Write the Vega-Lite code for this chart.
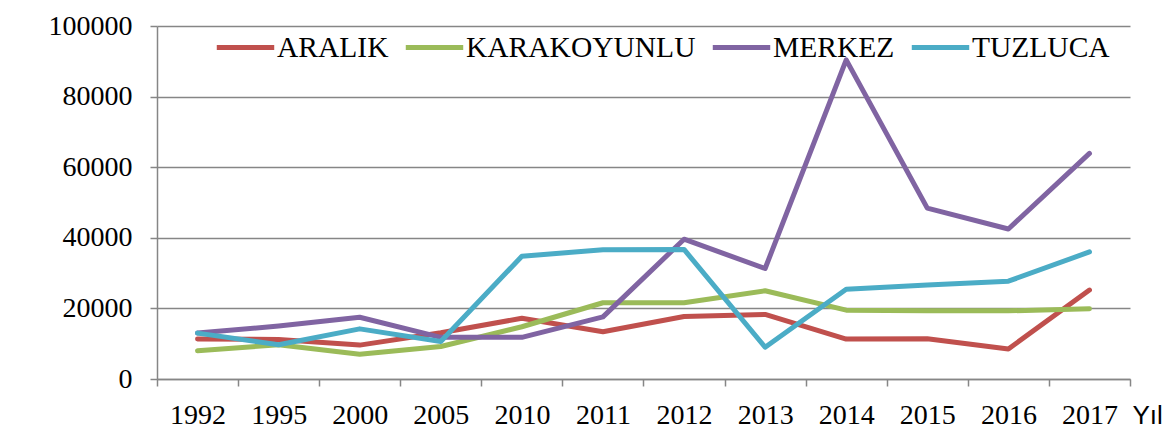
{
  "$schema": "https://vega.github.io/schema/vega-lite/v6.json",
  "autosize": {"type": "none"},
  "padding": {"left": 157, "top": 26, "right": 43, "bottom": 67},
  "width": 973,
  "height": 353,
  "background": "#ffffff",
  "config": {
    "view": {"stroke": null},
    "font": "Liberation Serif"
  },
  "data": {
    "values": [
      {"yil": "1992", "bolge": "ARALIK", "deger": 11300},
      {"yil": "1995", "bolge": "ARALIK", "deger": 11200},
      {"yil": "2000", "bolge": "ARALIK", "deger": 9600},
      {"yil": "2005", "bolge": "ARALIK", "deger": 13100},
      {"yil": "2010", "bolge": "ARALIK", "deger": 17200},
      {"yil": "2011", "bolge": "ARALIK", "deger": 13400},
      {"yil": "2012", "bolge": "ARALIK", "deger": 17700},
      {"yil": "2013", "bolge": "ARALIK", "deger": 18300},
      {"yil": "2014", "bolge": "ARALIK", "deger": 11300},
      {"yil": "2015", "bolge": "ARALIK", "deger": 11400},
      {"yil": "2016", "bolge": "ARALIK", "deger": 8500},
      {"yil": "2017", "bolge": "ARALIK", "deger": 25200},
      {"yil": "1992", "bolge": "KARAKOYUNLU", "deger": 8000},
      {"yil": "1995", "bolge": "KARAKOYUNLU", "deger": 9700},
      {"yil": "2000", "bolge": "KARAKOYUNLU", "deger": 7000},
      {"yil": "2005", "bolge": "KARAKOYUNLU", "deger": 9200},
      {"yil": "2010", "bolge": "KARAKOYUNLU", "deger": 14800},
      {"yil": "2011", "bolge": "KARAKOYUNLU", "deger": 21600},
      {"yil": "2012", "bolge": "KARAKOYUNLU", "deger": 21600},
      {"yil": "2013", "bolge": "KARAKOYUNLU", "deger": 25000},
      {"yil": "2014", "bolge": "KARAKOYUNLU", "deger": 19500},
      {"yil": "2015", "bolge": "KARAKOYUNLU", "deger": 19300},
      {"yil": "2016", "bolge": "KARAKOYUNLU", "deger": 19300},
      {"yil": "2017", "bolge": "KARAKOYUNLU", "deger": 19900},
      {"yil": "1992", "bolge": "MERKEZ", "deger": 13000},
      {"yil": "1995", "bolge": "MERKEZ", "deger": 15000},
      {"yil": "2000", "bolge": "MERKEZ", "deger": 17500},
      {"yil": "2005", "bolge": "MERKEZ", "deger": 11800},
      {"yil": "2010", "bolge": "MERKEZ", "deger": 11800},
      {"yil": "2011", "bolge": "MERKEZ", "deger": 17600},
      {"yil": "2012", "bolge": "MERKEZ", "deger": 39600},
      {"yil": "2013", "bolge": "MERKEZ", "deger": 31300},
      {"yil": "2014", "bolge": "MERKEZ", "deger": 90400},
      {"yil": "2015", "bolge": "MERKEZ", "deger": 48400},
      {"yil": "2016", "bolge": "MERKEZ", "deger": 42500},
      {"yil": "2017", "bolge": "MERKEZ", "deger": 63900},
      {"yil": "1992", "bolge": "TUZLUCA", "deger": 13000},
      {"yil": "1995", "bolge": "TUZLUCA", "deger": 9700},
      {"yil": "2000", "bolge": "TUZLUCA", "deger": 14200},
      {"yil": "2005", "bolge": "TUZLUCA", "deger": 10600},
      {"yil": "2010", "bolge": "TUZLUCA", "deger": 34800},
      {"yil": "2011", "bolge": "TUZLUCA", "deger": 36600},
      {"yil": "2012", "bolge": "TUZLUCA", "deger": 36700},
      {"yil": "2013", "bolge": "TUZLUCA", "deger": 9000},
      {"yil": "2014", "bolge": "TUZLUCA", "deger": 25400},
      {"yil": "2015", "bolge": "TUZLUCA", "deger": 26600},
      {"yil": "2016", "bolge": "TUZLUCA", "deger": 27700},
      {"yil": "2017", "bolge": "TUZLUCA", "deger": 36000}
    ]
  },
  "mark": {"type": "line", "strokeWidth": 5, "strokeCap": "round", "strokeJoin": "round"},
  "encoding": {
    "x": {
      "field": "yil",
      "type": "ordinal",
      "scale": {"type": "band", "paddingInner": 0, "paddingOuter": 0},
      "bandPosition": 0.5,
      "axis": {
        "title": "Yıl",
        "titleFont": "Liberation Sans",
        "titleFontSize": 26,
        "titleFontWeight": "normal",
        "titleColor": "#000000",
        "titleAlign": "left",
        "titleBaseline": "alphabetic",
        "titleAnchor": null,
        "titleX": 975,
        "titleY": 44,
        "labelAngle": 0,
        "labelFont": "Liberation Serif",
        "labelFontSize": 28,
        "labelColor": "#000000",
        "labelBaseline": "alphabetic",
        "labelPadding": 37,
        "tickBand": "extent",
        "tickSize": 7,
        "tickWidth": 1.5,
        "tickColor": "#868686",
        "domainColor": "#868686",
        "domainWidth": 1.5,
        "grid": false
      }
    },
    "y": {
      "field": "deger",
      "type": "quantitative",
      "scale": {"domain": [0, 100000], "nice": false},
      "axis": {
        "title": null,
        "values": [0, 20000, 40000, 60000, 80000, 100000],
        "format": "d",
        "labelFont": "Liberation Serif",
        "labelFontSize": 28,
        "labelColor": "#000000",
        "labelPadding": 18,
        "tickSize": 7,
        "tickWidth": 1.5,
        "tickColor": "#868686",
        "domainColor": "#868686",
        "domainWidth": 1.5,
        "grid": true,
        "gridColor": "#868686",
        "gridWidth": 1.5
      }
    },
    "color": {
      "field": "bolge",
      "type": "nominal",
      "scale": {
        "domain": ["ARALIK", "KARAKOYUNLU", "MERKEZ", "TUZLUCA"],
        "range": ["#C0504D", "#9BBB59", "#8064A2", "#4BACC6"]
      },
      "legend": {
        "title": null,
        "orient": "none",
        "direction": "horizontal",
        "legendX": 57,
        "legendY": -10,
        "symbolType": "stroke",
        "symbolSize": 3300,
        "symbolStrokeWidth": 5,
        "labelFont": "Liberation Serif",
        "labelFontSize": 29.5,
        "labelColor": "#000000",
        "labelOffset": 0,
        "columnPadding": 6,
        "labelLimit": 400
      }
    }
  }
}
